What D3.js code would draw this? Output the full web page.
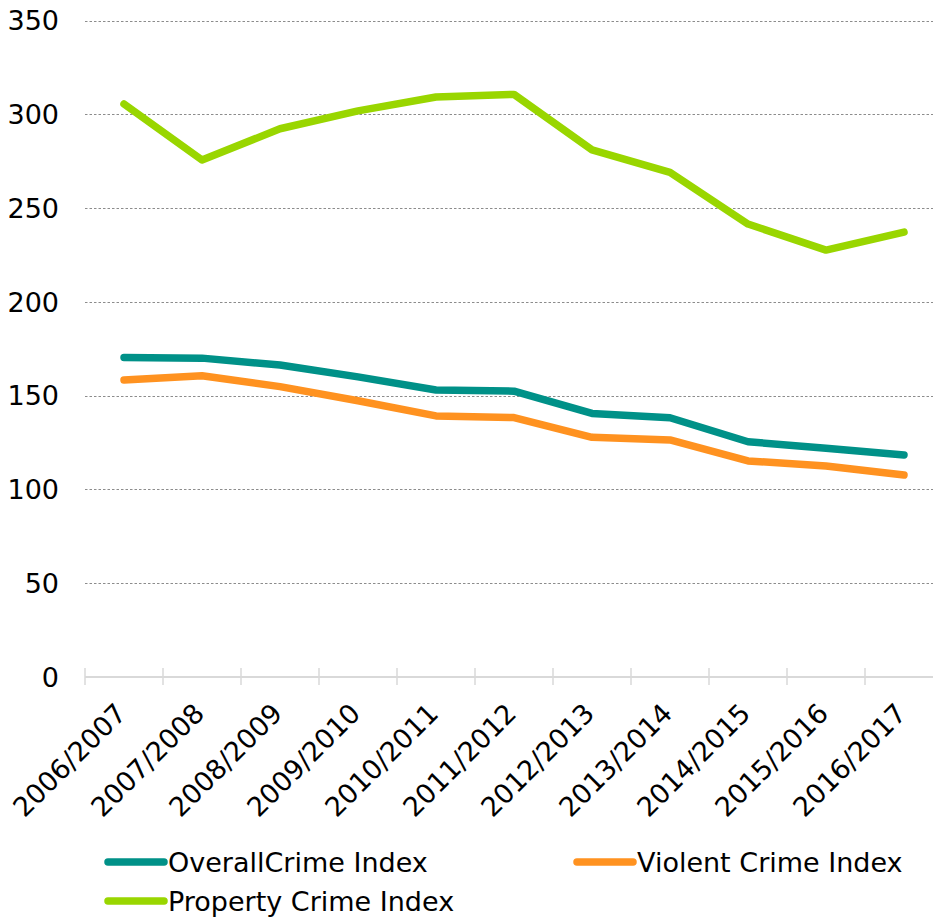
<!DOCTYPE html>
<html>
<head>
<meta charset="utf-8">
<script src="https://cdn.jsdelivr.net/npm/d3@7"></script>
<style>
  html, body { margin: 0; padding: 0; background: #fff; }
  svg { display: block; font-family: "DejaVu Sans", Verdana, sans-serif; }
</style>
</head>
<body>
<svg id="chart" width="933" height="920"></svg>
<script>
// Fiscal years on the category axis
const years = ["2006/2007", "2007/2008", "2008/2009", "2009/2010", "2010/2011", "2011/2012",
               "2012/2013", "2013/2014", "2014/2015", "2015/2016", "2016/2017"];

// Index values per series
const overallCrime  = [170.3, 170.0, 166.3, 160.0, 153.0, 152.4, 140.5, 138.2, 125.4, 122.0, 118.4];
const violentCrime  = [158.3, 160.6, 154.8, 147.3, 139.2, 138.3, 127.8, 126.4, 115.2, 112.5, 107.7];
const propertyCrime = [305.5, 275.6, 292.3, 301.8, 309.2, 310.6, 281.0, 269.0, 241.5, 227.6, 237.2];

const yTicks = [0, 50, 100, 150, 200, 250, 300, 350];

const seriesNames  = ["OverallCrime Index", "Violent Crime Index", "Property Crime Index"];
const seriesColors = ["#009188", "#ff9220", "#99d600"];
const seriesValues = [overallCrime, violentCrime, propertyCrime];

const svg = d3.select("#chart");
const fontSize = 27;

const x = d3.scaleBand().domain(years).range([85, 943]);
const y = d3.scaleLinear().domain([0, 350]).range([677, 20.5]);

// Dotted horizontal gridlines
svg.append("g")
  .selectAll("line")
  .data(yTicks.filter(d => d > 0))
  .join("line")
  .attr("x1", 85).attr("x2", 933)
  .attr("y1", d => Math.round(y(d)) + 0.5).attr("y2", d => Math.round(y(d)) + 0.5)
  .attr("stroke", "#8c8c8c")
  .attr("stroke-width", 1)
  .attr("stroke-dasharray", "2.5,2");

// Value axis labels
svg.append("g")
  .selectAll("text")
  .data(yTicks)
  .join("text")
  .attr("x", 59)
  .attr("y", d => y(d))
  .attr("dy", "0.36em")
  .attr("text-anchor", "end")
  .attr("font-size", fontSize)
  .attr("fill", "#000")
  .text(d => d);

// Category axis: baseline and crossing tick marks at band edges
const axisG = svg.append("g");
axisG.append("line")
  .attr("x1", 85).attr("x2", 933)
  .attr("y1", y(0)).attr("y2", y(0))
  .attr("stroke", "#d9d9d9").attr("stroke-width", 2);
const edges = years.map(d => x(d)).concat([x(years[years.length - 1]) + x.bandwidth()]);
axisG.selectAll("line.tick")
  .data(edges)
  .join("line")
  .attr("class", "tick")
  .attr("x1", d => d).attr("x2", d => d)
  .attr("y1", y(0) - 9).attr("y2", y(0) + 8)
  .attr("stroke", "#d9d9d9").attr("stroke-width", 1.5);

// Rotated category labels
axisG.selectAll("text")
  .data(years)
  .join("text")
  .attr("transform", d => `translate(${x(d) + x.bandwidth() / 2 + 4},${y(0) + 38}) rotate(-45)`)
  .attr("text-anchor", "end")
  .attr("font-size", fontSize)
  .attr("fill", "#000")
  .text(d => d);

// Series lines
const line = d3.line()
  .x((d, i) => x(years[i]) + x.bandwidth() / 2)
  .y(d => y(d));

svg.append("g")
  .selectAll("path")
  .data(seriesValues)
  .join("path")
  .attr("d", d => line(d))
  .attr("fill", "none")
  .attr("stroke", (d, i) => seriesColors[i])
  .attr("stroke-width", 7.5)
  .attr("stroke-linecap", "round")
  .attr("stroke-linejoin", "round");

// Legend
const legendPos = [
  { lx: 108, ly: 862 },
  { lx: 577, ly: 862 },
  { lx: 108, ly: 901 }
];
const legend = svg.append("g")
  .selectAll("g")
  .data(seriesNames)
  .join("g")
  .attr("transform", (d, i) => `translate(${legendPos[i].lx},${legendPos[i].ly})`);
legend.append("line")
  .attr("x1", 0).attr("x2", 56)
  .attr("y1", 0).attr("y2", 0)
  .attr("stroke", (d, i) => seriesColors[i])
  .attr("stroke-width", 7.5)
  .attr("stroke-linecap", "round");
legend.append("text")
  .attr("x", 60)
  .attr("y", 0)
  .attr("dy", "0.36em")
  .attr("font-size", fontSize)
  .attr("fill", "#000")
  .text(d => d);
</script>
</body>
</html>
